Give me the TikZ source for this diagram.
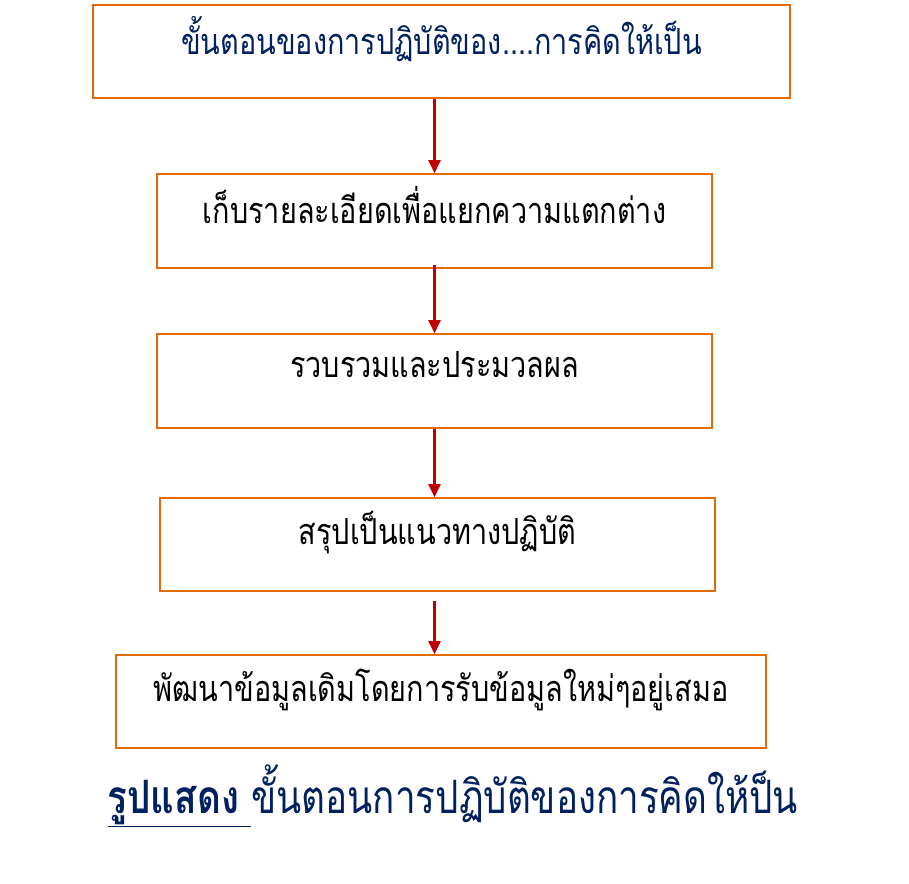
\documentclass[tikz,border=0pt]{standalone}
\usepackage{fontspec}
\usepackage{xcolor}
\usetikzlibrary{arrows.meta}
\newfontfamily\thaifont[Script=Thai, FakeStretch=0.8]{Loma}
\definecolor{boxorange}{RGB}{227,108,9}
\definecolor{arrowred}{RGB}{192,0,0}
\definecolor{navytext}{RGB}{0,32,96}
\begin{document}
\begin{tikzpicture}[x=1pt,y=-1pt,
  stepbox/.style={draw=boxorange, line width=1.6pt, fill=white, inner sep=0pt,
    font=\thaifont\fontsize{36}{42}\selectfont, text depth=33pt},
  flowarrow/.style={draw=arrowred, line width=2.2pt, -{Triangle[length=13pt,width=12pt]}}]
\useasboundingbox (0,0) rectangle (909,883);
\node[stepbox, minimum width=697pt, minimum height=93pt, text=navytext] (s1) at (441.5,51.5) {ขั้นตอนของการปฏิบัติของ....การคิดให้เป็น};
\node[stepbox, minimum width=555pt, minimum height=94pt] (s2) at (434.5,221) {เก็บรายละเอียดเพื่อแยกความแตกต่าง};
\node[stepbox, minimum width=555pt, minimum height=94pt] (s3) at (434.5,381) {รวบรวมและประมวลผล};
\node[stepbox, minimum width=555pt, minimum height=93pt] (s4) at (437.5,544.5) {สรุปเป็นแนวทางปฏิบัติ};
\node[stepbox, minimum width=650pt, minimum height=93pt] (s5) at (441,701.5) {พัฒนาข้อมูลเดิมโดยการรับข้อมูลใหม่ๆอยู่เสมอ};
% caption under the chart
\node[text=navytext, font=\thaifont\fontsize{46}{50}\selectfont] (cap) at (453,796) {\underline{\textbf{รูปแสดง }}ขั้นตอนการปฏิบัติของการคิดให้ป็น};
% arrows between the steps
\draw[flowarrow] (s1.south -| s3.center) -- (s2.north -| s3.center);
\draw[flowarrow, shorten <=-4pt] (s2.south -| s3.center) -- (s3.north);
\draw[flowarrow] (s3.south) -- (s4.north -| s3.center);
\draw[flowarrow, shorten <=9pt] (s4.south -| s3.center) -- (s5.north -| s3.center);
\end{tikzpicture}
\end{document}
